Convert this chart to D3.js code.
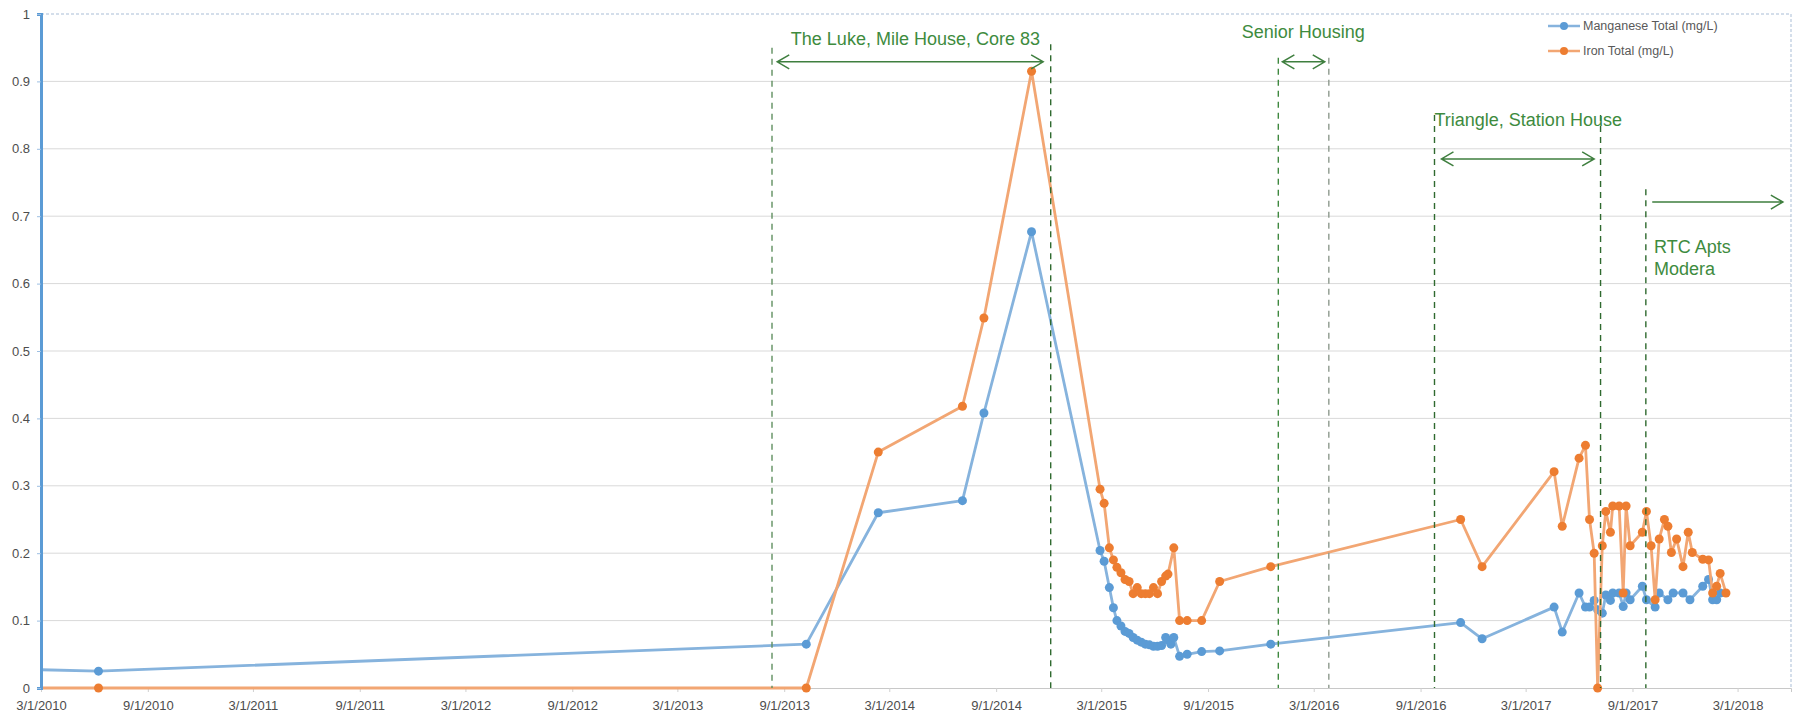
<!DOCTYPE html>
<html>
<head>
<meta charset="utf-8">
<script src="https://cdnjs.cloudflare.com/ajax/libs/d3/7.8.5/d3.min.js"></script>
<style>
body { margin: 0; background: #fff; }
svg { display: block; font-family: "Liberation Sans", Arial, sans-serif; }
</style>
</head>
<body>
<script>

// Manganese samples (first point sits before the axis start, clipped)
var mnDates = ["12/1/2009", "6/8/2010", "10/9/2013", "2/10/2014", "7/5/2014", "8/11/2014", "11/1/2014",
    "2/27/2015", "3/6/2015", "3/15/2015", "3/22/2015", "3/28/2015", "4/4/2015", "4/11/2015", "4/18/2015",
    "4/25/2015", "5/2/2015", "5/9/2015", "5/16/2015", "5/23/2015", "5/30/2015", "6/6/2015", "6/13/2015",
    "6/20/2015", "6/24/2015", "6/29/2015", "7/4/2015", "7/14/2015", "7/27/2015", "8/21/2015", "9/21/2015",
    "12/18/2015", "11/9/2016", "12/16/2016", "4/19/2017", "5/3/2017", "6/1/2017", "6/12/2017", "6/19/2017",
    "6/27/2017", "7/3/2017", "7/11/2017", "7/17/2017", "7/25/2017", "7/29/2017", "8/9/2017", "8/16/2017",
    "8/21/2017", "8/28/2017", "9/18/2017", "9/25/2017", "10/10/2017", "10/17/2017", "11/1/2017", "11/10/2017",
    "11/27/2017", "12/9/2017", "12/31/2017", "1/10/2018", "1/17/2018", "1/24/2018", "1/30/2018"];
var mnValues = [0.029, 0.025, 0.065, 0.26, 0.278, 0.408, 0.677,
    0.204, 0.188, 0.149, 0.119, 0.1, 0.092, 0.084, 0.081,
    0.075, 0.071, 0.068, 0.065, 0.064, 0.062, 0.062, 0.063,
    0.075, 0.071, 0.065, 0.075, 0.047, 0.05, 0.054, 0.055,
    0.065, 0.097, 0.073, 0.12, 0.083, 0.141, 0.12, 0.12,
    0.13, 0.116, 0.111, 0.138, 0.13, 0.141, 0.141, 0.121,
    0.141, 0.131, 0.151, 0.131, 0.12, 0.141, 0.131, 0.141,
    0.141, 0.131, 0.151, 0.161, 0.131, 0.131, 0.141];

// Iron samples
var feDates = ["12/1/2009", "6/8/2010", "10/9/2013", "2/10/2014", "7/5/2014", "8/11/2014", "11/1/2014",
    "2/27/2015", "3/6/2015", "3/15/2015", "3/22/2015", "3/28/2015", "4/4/2015", "4/11/2015", "4/18/2015",
    "4/25/2015", "5/2/2015", "5/9/2015", "5/16/2015", "5/23/2015", "5/30/2015", "6/6/2015", "6/13/2015",
    "6/20/2015", "6/24/2015", "7/4/2015", "7/14/2015", "7/27/2015", "8/21/2015", "9/21/2015",
    "12/18/2015", "11/9/2016", "12/16/2016", "4/19/2017", "5/3/2017", "6/1/2017", "6/12/2017", "6/19/2017",
    "6/27/2017", "7/3/2017", "7/11/2017", "7/17/2017", "7/25/2017", "7/29/2017", "8/9/2017", "8/16/2017",
    "8/21/2017", "8/28/2017", "9/18/2017", "9/25/2017", "10/3/2017", "10/10/2017", "10/17/2017", "10/26/2017",
    "11/1/2017", "11/7/2017", "11/16/2017", "11/27/2017", "12/6/2017", "12/13/2017", "12/31/2017",
    "1/10/2018", "1/17/2018", "1/24/2018", "1/30/2018", "2/9/2018"];
var feValues = [0, 0, 0, 0.35, 0.418, 0.549, 0.915,
    0.295, 0.274, 0.208, 0.19, 0.179, 0.171, 0.161, 0.158,
    0.14, 0.149, 0.14, 0.14, 0.14, 0.149, 0.14, 0.158,
    0.166, 0.169, 0.208, 0.1, 0.1, 0.1, 0.158,
    0.18, 0.25, 0.18, 0.321, 0.24, 0.341, 0.36, 0.25,
    0.2, 0, 0.211, 0.262, 0.231, 0.27, 0.27, 0.141,
    0.27, 0.211, 0.231, 0.262, 0.211, 0.131, 0.221, 0.25,
    0.24, 0.201, 0.221, 0.18, 0.231, 0.201, 0.191,
    0.19, 0.141, 0.151, 0.17, 0.141];

var seriesNames = ["Manganese Total (mg/L)", "Iron Total (mg/L)"];
var xTickLabels = ["3/1/2010", "9/1/2010", "3/1/2011", "9/1/2011", "3/1/2012", "9/1/2012", "3/1/2013",
    "9/1/2013", "3/1/2014", "9/1/2014", "3/1/2015", "9/1/2015", "3/1/2016", "9/1/2016", "3/1/2017",
    "9/1/2017", "3/1/2018"];
var yTicks = [0, 0.1, 0.2, 0.3, 0.4, 0.5, 0.6, 0.7, 0.8, 0.9, 1];

// construction markers drawn over the chart
var guideDates = ["8/11/2013", "12/4/2014", "12/31/2015", "3/27/2016", "9/25/2016", "7/8/2017", "9/24/2017"];
var guideTops = [0.95, 0.955, 0.935, 0.935, 0.85, 0.85, 0.74];
var guideColors = ["#5f8f5f", "#2f6a2f", "#3f883f", "#8e9a8e", "#2f6a2f", "#2f6a2f", "#2f6a2f"];

var spanStarts = ["8/20/2013", "1/7/2016", "10/7/2016", "10/5/2017"];
var spanEnds = ["11/21/2014", "3/20/2016", "6/27/2017", "5/18/2018"];
var spanLevels = [0.929, 0.929, 0.785, 0.721];
var spanBothHeads = [true, true, true, false];

var noteTexts = [["The Luke, Mile House, Core 83"], ["Senior Housing"], ["Triangle, Station House"], ["RTC Apts", "Modera"]];
var noteDates = ["4/15/2014", "10/29/2015", "9/25/2016", "10/8/2017"];
var noteLevels = [0.954, 0.964, 0.834, 0.645];
var noteAnchors = ["middle", "start", "start", "start"];

var width = 1796;
var height = 714;
var parse = d3.timeParse("%m/%d/%Y");

var x = d3.scaleTime()
    .domain([parse("3/1/2010"), parse("6/1/2018")])
    .range([41, 1791]);
var y = d3.scaleLinear()
    .domain([0, 1])
    .range([688, 14]);

var svg = d3.select("body").append("svg")
    .attr("width", width)
    .attr("height", height);

svg.append("defs").append("clipPath")
    .attr("id", "plot")
    .append("rect")
    .attr("x", x.range()[0])
    .attr("y", 0)
    .attr("width", x.range()[1] - x.range()[0])
    .attr("height", height);

// gridlines
svg.append("g")
    .selectAll("line")
    .data(yTicks.filter(function(d) { return d > 0 && d < 1; }))
    .enter()
    .append("line")
    .attr("x1", x.range()[0])
    .attr("x2", x.range()[1])
    .attr("y1", function(d) { return y(d); })
    .attr("y2", function(d) { return y(d); })
    .style("stroke", "#d9d9d9")
    .style("stroke-width", 1);

// plot border (top + right)
svg.append("path")
    .attr("d", "M" + x.range()[0] + "," + y(1) + "H" + x.range()[1] + "V" + y(0))
    .style("fill", "none")
    .style("stroke", "#a9bdd6")
    .style("stroke-width", 1)
    .style("stroke-dasharray", "3,2");

// x axis
var fmt = function(d) { return (d.getMonth() + 1) + "/" + d.getDate() + "/" + d.getFullYear(); };
var xAxis = svg.append("g")
    .attr("transform", "translate(0," + y(0) + ")")
    .call(d3.axisBottom(x)
        .tickValues(xTickLabels.map(parse))
        .tickFormat(fmt)
        .tickSize(4)
        .tickPadding(9));
xAxis.select(".domain").style("stroke", "#c8c8c8");
xAxis.selectAll(".tick line").style("stroke", "#d0d0d0");
xAxis.selectAll("text")
    .style("font-size", "13px")
    .style("fill", "#4d4d4d");

// series
var series = [
    {name: seriesNames[0], dates: mnDates, values: mnValues, line: "#86b3dd", dot: "#5b9bd5"},
    {name: seriesNames[1], dates: feDates, values: feValues, line: "#f2a673", dot: "#ed7d31"}
];
series.forEach(function(s) {
    s.points = s.dates.map(function(d, i) { return {date: parse(d), value: s.values[i]}; });
});

var line = d3.line()
    .x(function(d) { return x(d.date); })
    .y(function(d) { return y(d.value); });

var plot = svg.append("g").attr("clip-path", "url(#plot)");

series.forEach(function(s) {
    plot.append("path")
        .datum(s.points)
        .attr("d", line)
        .style("fill", "none")
        .style("stroke", s.line)
        .style("stroke-width", 2.8)
        .style("stroke-linejoin", "round");

    plot.append("g")
        .selectAll("circle")
        .data(s.points.filter(function(d) { return d.date >= x.domain()[0]; }))
        .enter()
        .append("circle")
        .attr("cx", function(d) { return x(d.date); })
        .attr("cy", function(d) { return y(d.value); })
        .attr("r", 4.5)
        .style("fill", s.dot);
});

// y axis, thick blue line like the source
var yAxis = svg.append("g")
    .attr("transform", "translate(" + x.range()[0] + ",0)")
    .call(d3.axisLeft(y)
        .tickValues(yTicks)
        .tickFormat(d3.format(".1~f"))
        .tickSize(4)
        .tickPadding(7));
yAxis.select(".domain").style("stroke", "#5b9bd5").style("stroke-width", 3);
yAxis.selectAll(".tick line").style("stroke", "#9dbfe3");
yAxis.selectAll("text")
    .style("font-size", "13px")
    .style("fill", "#4d4d4d");

// dashed construction lines
svg.append("g")
    .selectAll("line")
    .data(guideDates)
    .enter()
    .append("line")
    .attr("x1", function(d) { return x(parse(d)); })
    .attr("x2", function(d) { return x(parse(d)); })
    .attr("y1", function(d, i) { return y(guideTops[i]); })
    .attr("y2", y(0))
    .style("stroke", function(d, i) { return guideColors[i]; })
    .style("stroke-width", 1.4)
    .style("stroke-dasharray", "6,5");

// arrows
var arrows = svg.append("g")
    .style("fill", "none")
    .style("stroke", "#3f7f3f")
    .style("stroke-width", 1.5);

spanStarts.forEach(function(s, i) {
    var x0 = x(parse(s)), x1 = x(parse(spanEnds[i])), yy = y(spanLevels[i]);
    var d = "M" + x0 + "," + yy + "H" + x1 +
        "M" + (x1 - 12) + "," + (yy - 7) + "L" + x1 + "," + yy + "L" + (x1 - 12) + "," + (yy + 7);
    if (spanBothHeads[i]) {
        d += "M" + (x0 + 12) + "," + (yy - 7) + "L" + x0 + "," + yy + "L" + (x0 + 12) + "," + (yy + 7);
    }
    arrows.append("path").attr("d", d);
});

// notes
noteTexts.forEach(function(lines, i) {
    var t = svg.append("text")
        .attr("x", x(parse(noteDates[i])))
        .attr("y", y(noteLevels[i]))
        .attr("text-anchor", noteAnchors[i])
        .style("font-size", "18px")
        .style("fill", "#3e8b3e");
    lines.forEach(function(l, j) {
        t.append("tspan")
            .attr("x", x(parse(noteDates[i])))
            .attr("dy", j == 0 ? 0 : 22)
            .text(l);
    });
});

// legend
var legend = svg.append("g")
    .selectAll("g")
    .data(series)
    .enter()
    .append("g")
    .attr("transform", function(d, i) { return "translate(1548," + (26 + i * 25) + ")"; });

legend.append("line")
    .attr("x1", 0)
    .attr("x2", 32)
    .style("stroke", function(d) { return d.line; })
    .style("stroke-width", 2.5);
legend.append("circle")
    .attr("cx", 16)
    .attr("r", 4)
    .style("fill", function(d) { return d.dot; });
legend.append("text")
    .attr("x", 35)
    .attr("dy", "0.35em")
    .style("font-size", "12.5px")
    .style("fill", "#595959")
    .text(function(d) { return d.name; });

</script>
</body>
</html>
